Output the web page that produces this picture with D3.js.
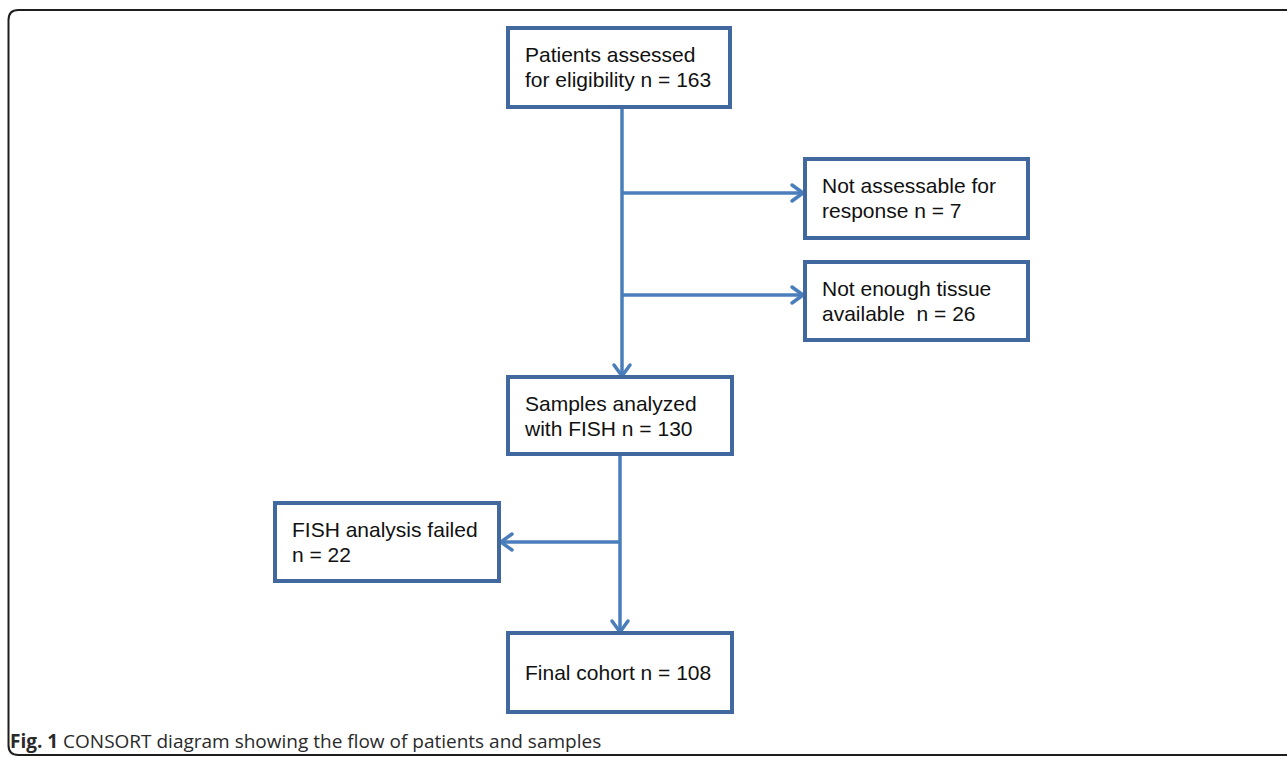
<!DOCTYPE html>
<html>
<head>
<meta charset="utf-8">
<script src="https://cdn.jsdelivr.net/npm/d3@7"></script>
<style>
  html, body { margin: 0; padding: 0; background: #fff; overflow: hidden; }
  svg { display: block; }
</style>
</head>
<body>
<div class="svg-container"></div>
<script>
// flow content
const nodeIds = ['assessed', 'notAssessable', 'noTissue', 'analyzed', 'failed', 'final']
const nodeLines = [
  ['Patients assessed', 'for eligibility'],
  ['Not assessable for', 'response'],
  ['Not enough tissue', 'available '],
  ['Samples analyzed', 'with FISH'],
  ['FISH analysis failed', ''],
  ['Final cohort']
]
const nodeCounts = [163, 7, 26, 130, 22, 108]
const links = [
  ['assessed', 'analyzed'],
  ['assessed', 'notAssessable'],
  ['assessed', 'noTissue'],
  ['analyzed', 'final'],
  ['analyzed', 'failed']
]
const captionBold = 'Fig. 1'
const captionText = 'CONSORT diagram showing the flow of patients and samples'

// layout (pixels)
const svgWidth = 1287
const svgHeight = 758
const layout = {
  assessed:      { x: 508, y: 28,  w: 222, h: 79 },
  notAssessable: { x: 805, y: 159, w: 223, h: 79 },
  noTissue:      { x: 805, y: 262, w: 223, h: 78 },
  analyzed:      { x: 508, y: 377, w: 224, h: 77 },
  failed:        { x: 275, y: 503, w: 224, h: 78 },
  final:         { x: 508, y: 633, w: 224, h: 79 }
}
// branch y for side links, trunk x for each source
const trunkX = { assessed: 622, analyzed: 620 }
const branchY = { notAssessable: 193, noTissue: 295, failed: 542 }

const boxStroke = '#41699f'
const lineStroke = '#4a7ebb'

const svg = d3.select('.svg-container')
  .append('svg')
  .attr('width', svgWidth)
  .attr('height', svgHeight)

// outer frame with rounded left corners
const r = 10
const fx = 8.5, fy = 10, fb = 755
svg.append('path')
  .attr('d', `M${svgWidth + 5},${fy} H${fx + r} Q${fx},${fy} ${fx},${fy + r} V${fb - r} Q${fx},${fb} ${fx + r},${fb} H${svgWidth + 5}`)
  .attr('fill', 'none')
  .attr('stroke', '#1e1e1e')
  .attr('stroke-width', 2)

const nodes = nodeIds.map((id, i) => ({
  id,
  lines: nodeLines[i],
  count: nodeCounts[i],
  ...layout[id]
}))
const byId = new Map(nodes.map(d => [d.id, d]))

// arrows
const arrowLen = 11
const arrowHalf = 8
function arrowHead(g, tipX, tipY, dir) {
  // dir: 'down' | 'right' | 'left'
  let pts
  if (dir === 'down') pts = [[tipX - arrowHalf, tipY - arrowLen], [tipX, tipY], [tipX + arrowHalf, tipY - arrowLen]]
  else if (dir === 'right') pts = [[tipX - arrowLen, tipY - arrowHalf], [tipX, tipY], [tipX - arrowLen, tipY + arrowHalf]]
  else pts = [[tipX + arrowLen, tipY - arrowHalf], [tipX, tipY], [tipX + arrowLen, tipY + arrowHalf]]
  g.append('path')
    .attr('d', d3.line()(pts))
    .attr('fill', 'none')
    .attr('stroke', lineStroke)
    .attr('stroke-width', 3.5)
    .attr('stroke-linecap', 'round')
    .attr('stroke-linejoin', 'round')
}

const linkG = svg.append('g').attr('class', 'links')
links.forEach(([from, to]) => {
  const s = byId.get(from)
  const t = byId.get(to)
  const x = trunkX[from]
  if (branchY[to] === undefined) {
    // straight down
    linkG.append('line')
      .attr('x1', x).attr('y1', s.y + s.h)
      .attr('x2', x).attr('y2', t.y - 1)
      .attr('stroke', lineStroke).attr('stroke-width', 3.5)
    arrowHead(linkG, x, t.y - 1, 'down')
  } else {
    const y = branchY[to]
    const right = t.x > x
    const tip = right ? t.x - 2 : t.x + t.w + 2
    linkG.append('line')
      .attr('x1', x).attr('y1', y)
      .attr('x2', tip).attr('y2', y)
      .attr('stroke', lineStroke).attr('stroke-width', 3.5)
    arrowHead(linkG, tip, y, right ? 'right' : 'left')
  }
})

// boxes
const box = svg.selectAll('.node')
  .data(nodes)
  .join('g')
  .classed('node', true)
  .attr('transform', d => `translate(${d.x}, ${d.y})`)

box.append('rect')
  .attr('width', d => d.w)
  .attr('height', d => d.h)
  .attr('fill', '#fff')
  .attr('stroke', boxStroke)
  .attr('stroke-width', 4)

box.each(function (d) {
  const g = d3.select(this)
  const lines = d.lines.slice()
  const last = lines.length - 1
  lines[last] = (lines[last] ? lines[last] + ' ' : '') + 'n = ' + d.count
  const first = lines.length === 1 ? 47 : 34
  lines.forEach((txt, i) => {
    g.append('text')
      .attr('x', 17)
      .attr('y', first + i * 25)
      .attr('xml:space', 'preserve')
      .style('white-space', 'pre')
      .attr('font-family', '"Liberation Sans", Arial, sans-serif')
      .attr('font-size', 21)
      .attr('fill', '#111')
      .text(txt)
  })
})

// caption
const cap = svg.append('text')
  .attr('x', 10)
  .attr('y', 748)
  .attr('font-family', '"Open Sans", "Noto Sans", sans-serif')
  .attr('font-size', 19)
  .attr('fill', '#2a2a2a')
cap.append('tspan').attr('font-weight', 'bold').text(captionBold)
cap.append('tspan').text(' ' + captionText)
</script>
</body>
</html>
